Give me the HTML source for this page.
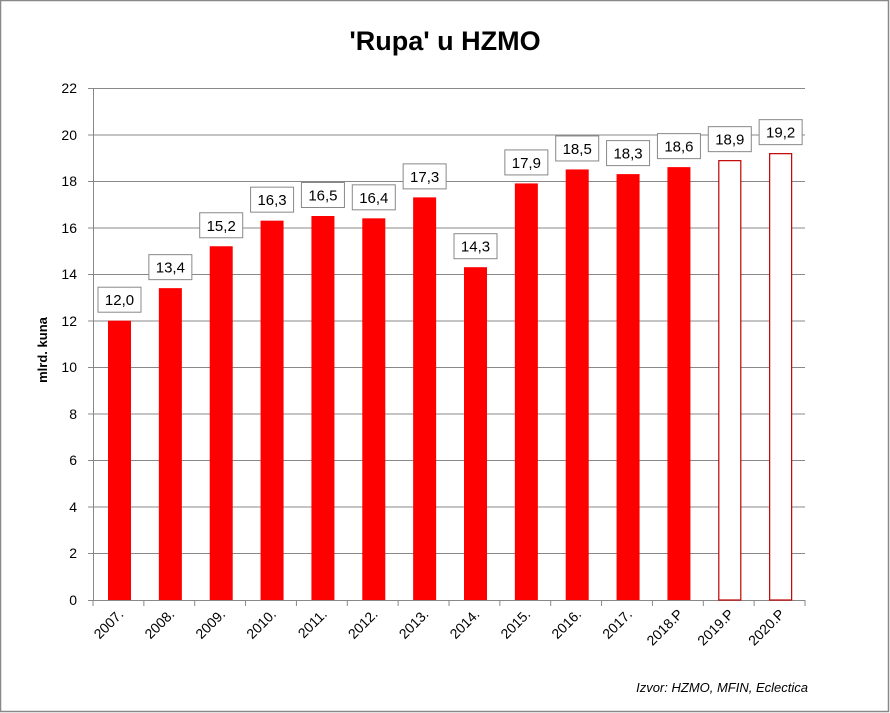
<!DOCTYPE html>
<html><head><meta charset="utf-8"><style>
html,body{margin:0;padding:0;background:#fff;}
svg{display:block;font-family:"Liberation Sans",Arial,sans-serif;}
</style></head><body>
<svg width="890" height="713" viewBox="0 0 890 713" xmlns="http://www.w3.org/2000/svg">
<rect x="0.5" y="0.5" width="888" height="711" fill="#fff" stroke="#888" stroke-width="1.5"/>
<text x="445" y="50" text-anchor="middle" font-size="27" font-weight="bold" fill="#000">'Rupa' u HZMO</text>
<g stroke="#888" stroke-width="1">
<line x1="88" y1="88.5" x2="805" y2="88.5"/>
<line x1="88" y1="135" x2="805" y2="135"/>
<line x1="88" y1="181.5" x2="805" y2="181.5"/>
<line x1="88" y1="228" x2="805" y2="228"/>
<line x1="88" y1="274.5" x2="805" y2="274.5"/>
<line x1="88" y1="321" x2="805" y2="321"/>
<line x1="88" y1="367.5" x2="805" y2="367.5"/>
<line x1="88" y1="414" x2="805" y2="414"/>
<line x1="88" y1="460.5" x2="805" y2="460.5"/>
<line x1="88" y1="507" x2="805" y2="507"/>
<line x1="88" y1="553.5" x2="805" y2="553.5"/>
<line x1="88" y1="600.5" x2="805" y2="600.5"/>
<line x1="93.5" y1="88" x2="93.5" y2="600"/>
<line x1="93" y1="600" x2="93" y2="606"/>
<line x1="143.86" y1="600" x2="143.86" y2="606"/>
<line x1="194.71" y1="600" x2="194.71" y2="606"/>
<line x1="245.57" y1="600" x2="245.57" y2="606"/>
<line x1="296.43" y1="600" x2="296.43" y2="606"/>
<line x1="347.29" y1="600" x2="347.29" y2="606"/>
<line x1="398.14" y1="600" x2="398.14" y2="606"/>
<line x1="449" y1="600" x2="449" y2="606"/>
<line x1="499.86" y1="600" x2="499.86" y2="606"/>
<line x1="550.71" y1="600" x2="550.71" y2="606"/>
<line x1="601.57" y1="600" x2="601.57" y2="606"/>
<line x1="652.43" y1="600" x2="652.43" y2="606"/>
<line x1="703.29" y1="600" x2="703.29" y2="606"/>
<line x1="754.14" y1="600" x2="754.14" y2="606"/>
<line x1="805" y1="600" x2="805" y2="606"/>
</g>
<g font-size="14" text-anchor="end" fill="#000">
<text x="77" y="93">22</text><text x="77" y="140">20</text><text x="77" y="186">18</text><text x="77" y="233">16</text><text x="77" y="279">14</text><text x="77" y="326">12</text><text x="77" y="372">10</text><text x="77" y="419">8</text><text x="77" y="465">6</text><text x="77" y="512">4</text><text x="77" y="558">2</text><text x="77" y="605">0</text>
</g>
<text transform="translate(47,350) rotate(-90)" text-anchor="middle" font-size="13" font-weight="bold">mlrd. kuna</text>
<g fill="#ff0000">
<rect x="108" y="320.7" width="23" height="279.3"/>
<rect x="158.86" y="288.15" width="23" height="311.85"/>
<rect x="209.71" y="246.25" width="23" height="353.75"/>
<rect x="260.57" y="220.65" width="23" height="379.35"/>
<rect x="311.43" y="216" width="23" height="384"/>
<rect x="362.29" y="218.33" width="23" height="381.67"/>
<rect x="413.14" y="197.38" width="23" height="402.62"/>
<rect x="464" y="267.2" width="23" height="332.8"/>
<rect x="514.86" y="183.42" width="23" height="416.58"/>
<rect x="565.71" y="169.45" width="23" height="430.55"/>
<rect x="616.57" y="174.11" width="23" height="425.89"/>
<rect x="667.43" y="167.13" width="23" height="432.87"/>
</g>
<g fill="#fff" stroke="#c00000" stroke-width="1.2">
<rect x="718.8" y="160.65" width="22" height="439.35"/>
<rect x="769.64" y="153.66" width="22" height="446.34"/>
</g>
<g fill="#fff" stroke="#888" stroke-width="1">
<rect x="98" y="287.2" width="43" height="25"/>
<rect x="148.86" y="254.65" width="43" height="25"/>
<rect x="199.71" y="212.75" width="43" height="25"/>
<rect x="250.57" y="187.15" width="43" height="25"/>
<rect x="301.43" y="182.5" width="43" height="25"/>
<rect x="352.29" y="184.83" width="43" height="25"/>
<rect x="403.14" y="163.88" width="43" height="25"/>
<rect x="454" y="233.7" width="43" height="25"/>
<rect x="504.86" y="149.92" width="43" height="25"/>
<rect x="555.71" y="135.95" width="43" height="25"/>
<rect x="606.57" y="140.61" width="43" height="25"/>
<rect x="657.43" y="133.63" width="43" height="25"/>
<rect x="708.29" y="126.65" width="43" height="25"/>
<rect x="759.14" y="119.66" width="43" height="25"/>
</g>
<g font-size="15" text-anchor="middle" fill="#000">
<text x="119.5" y="305.2">12,0</text>
<text x="170.36" y="272.65">13,4</text>
<text x="221.21" y="230.75">15,2</text>
<text x="272.07" y="205.15">16,3</text>
<text x="322.93" y="200.5">16,5</text>
<text x="373.79" y="202.83">16,4</text>
<text x="424.64" y="181.88">17,3</text>
<text x="475.5" y="251.7">14,3</text>
<text x="526.36" y="167.92">17,9</text>
<text x="577.21" y="153.95">18,5</text>
<text x="628.07" y="158.61">18,3</text>
<text x="678.93" y="151.63">18,6</text>
<text x="729.79" y="144.65">18,9</text>
<text x="780.64" y="137.66">19,2</text>
</g>
<g font-size="14" text-anchor="end" fill="#000">
<text transform="translate(124.4,615) rotate(-45)">2007.</text>
<text transform="translate(175.26,615) rotate(-45)">2008.</text>
<text transform="translate(226.11,615) rotate(-45)">2009.</text>
<text transform="translate(276.97,615) rotate(-45)">2010.</text>
<text transform="translate(327.83,615) rotate(-45)">2011.</text>
<text transform="translate(378.69,615) rotate(-45)">2012.</text>
<text transform="translate(429.54,615) rotate(-45)">2013.</text>
<text transform="translate(480.4,615) rotate(-45)">2014.</text>
<text transform="translate(531.26,615) rotate(-45)">2015.</text>
<text transform="translate(582.11,615) rotate(-45)">2016.</text>
<text transform="translate(632.97,615) rotate(-45)">2017.</text>
<text transform="translate(683.83,615) rotate(-45)">2018.P</text>
<text transform="translate(734.69,615) rotate(-45)">2019.P</text>
<text transform="translate(785.54,615) rotate(-45)">2020.P</text>
</g>
<text x="808" y="692" text-anchor="end" font-size="13" font-style="italic">Izvor: HZMO, MFIN, Eclectica</text>
</svg>
</body></html>
